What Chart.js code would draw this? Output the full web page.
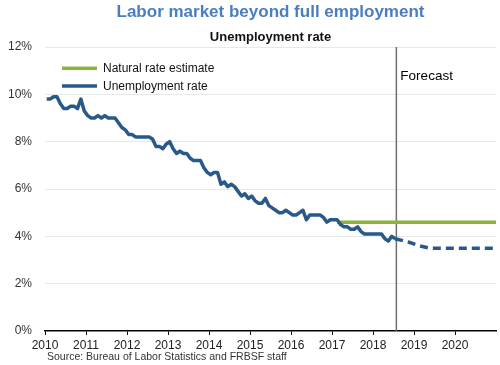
<!DOCTYPE html>
<html>
<head>
<meta charset="utf-8">
<script src="https://cdn.jsdelivr.net/npm/chart.js@4.4.1/dist/chart.umd.min.js"></script>
<style>
html,body{margin:0;padding:0;background:#fff;}
#wrap{position:relative;width:500px;height:365px;}
</style>
</head>
<body>
<div id="wrap"><canvas id="c" width="500" height="365"></canvas></div>
<script>
// ---- Data ----
const titleText = 'Labor market beyond full employment';
const subtitleText = 'Unemployment rate';
const sourceText = 'Source: Bureau of Labor Statistics and FRBSF staff';
const forecastLabel = 'Forecast';
const seriesNames = ['Natural rate estimate', 'Unemployment rate'];

const startYear = 2010; // monthly data from Jan 2010
const unemployment = [
  9.8, 9.8, 9.9, 9.9, 9.6, 9.4, 9.4, 9.5, 9.5, 9.4, 9.8, 9.3,   // 2010
  9.1, 9.0, 9.0, 9.1, 9.0, 9.1, 9.0, 9.0, 9.0, 8.8, 8.6, 8.5,   // 2011
  8.3, 8.3, 8.2, 8.2, 8.2, 8.2, 8.2, 8.1, 7.8, 7.8, 7.7, 7.9,   // 2012
  8.0, 7.7, 7.5, 7.6, 7.5, 7.5, 7.3, 7.2, 7.2, 7.2, 6.9, 6.7,   // 2013
  6.6, 6.7, 6.7, 6.2, 6.3, 6.1, 6.2, 6.1, 5.9, 5.7, 5.8, 5.6,   // 2014
  5.7, 5.5, 5.4, 5.4, 5.6, 5.3, 5.2, 5.1, 5.0, 5.0, 5.1, 5.0,   // 2015
  4.9, 4.9, 5.0, 5.1, 4.7, 4.9, 4.9, 4.9, 4.9, 4.8, 4.6, 4.7,   // 2016
  4.7, 4.7, 4.5, 4.4, 4.4, 4.3, 4.3, 4.4, 4.2, 4.1, 4.1, 4.1,   // 2017
  4.1, 4.1, 4.1, 3.9, 3.8, 4.0, 3.9                               // 2018
];
const forecastDates  = [2018.54, 2018.88, 2019.13, 2019.38, 2019.63, 2019.88, 2020.13, 2020.38, 2020.63, 2020.88, 2021.0];
const forecastValues = [3.9, 3.75, 3.6, 3.5, 3.5, 3.5, 3.5, 3.5, 3.5, 3.5, 3.5];
const naturalRateDates  = [2017.125, 2021.0];
const naturalRateValues = [4.6, 4.6];
const forecastStartDate = 2018.57;
const xTicks = [2010, 2011, 2012, 2013, 2014, 2015, 2016, 2017, 2018, 2019, 2020];
const yMin = 0, yMax = 12, yStep = 2;
const xMin = 2010, xMax = 2021;

// ---- Styles ----
const FONT = "'Liberation Sans', Arial, Helvetica, sans-serif";
const BLUE = '#28598a';
const GREEN = '#8cb43c';
const TITLE_BLUE = '#4a7ebf';
const VLINE = '#6e6e6e';

const actualPts = unemployment.map((v, i) => ({x: startYear + (i + 0.5) / 12, y: v}));
const forecastPts = forecastDates.map((d, i) => ({x: d, y: forecastValues[i]}));
const naturalPts = naturalRateDates.map((d, i) => ({x: d, y: naturalRateValues[i]}));
const vlinePts = [{x: forecastStartDate, y: yMin}, {x: forecastStartDate, y: yMax}];

const overlay = {
  id: 'overlay',
  afterDraw(chart) {
    const ctx = chart.ctx, ca = chart.chartArea;
    const xs = chart.scales.x;
    ctx.save();
    // legend
    const items = [
      {label: seriesNames[0], color: GREEN},
      {label: seriesNames[1], color: BLUE}
    ];
    items.forEach((it, i) => {
      const y = ca.top + 21.3 + i * 17.7;
      ctx.fillStyle = it.color;
      ctx.fillRect(ca.left + 17, y - 1.75, 35, 3.5);
      ctx.fillStyle = '#111';
      ctx.font = '12px ' + FONT;
      ctx.textBaseline = 'middle';
      ctx.textAlign = 'left';
      ctx.fillText(it.label, ca.left + 58, y + 0.5);
    });
    // forecast label
    ctx.font = '13.5px ' + FONT;
    ctx.fillStyle = '#000';
    ctx.textBaseline = 'middle';
    ctx.fillText(forecastLabel, xs.getPixelForValue(forecastStartDate) + 4, ca.top + 29);
    // source
    ctx.font = '10.5px ' + FONT;
    ctx.fillStyle = '#333';
    ctx.fillText(sourceText, ca.left + 2, 357);
    ctx.restore();
  }
};

new Chart(document.getElementById('c'), {
  type: 'line',
  data: {
    datasets: [
      {label: seriesNames[1], data: actualPts, borderColor: BLUE, borderWidth: 3.5, pointRadius: 0, tension: 0, borderJoinStyle: 'round'},
      {label: 'Forecast', data: forecastPts, borderColor: BLUE, borderWidth: 3.5, borderDash: [8, 5], pointRadius: 0, tension: 0},
      {label: seriesNames[0], data: naturalPts, borderColor: GREEN, borderWidth: 3.5, pointRadius: 0},
      {label: 'Forecast start', data: vlinePts, borderColor: VLINE, borderWidth: 1.5, pointRadius: 0}
    ]
  },
  options: {
    responsive: false,
    animation: false,
    devicePixelRatio: 1,
    layout: {padding: {left: 8, right: 4, top: 0, bottom: 13}},
    plugins: {
      legend: {display: false},
      tooltip: {enabled: false},
      title: {
        display: true, text: titleText, color: TITLE_BLUE, fullSize: false,
        font: {family: FONT, size: 17, weight: 'bold'},
        padding: {top: 2, bottom: 0}
      },
      subtitle: {
        display: true, text: subtitleText, color: '#111', fullSize: false,
        font: {family: FONT, size: 13, weight: 'bold'},
        padding: {top: 7, bottom: 2}
      }
    },
    scales: {
      x: {
        type: 'linear', min: xMin, max: xMax,
        afterBuildTicks: s => { s.ticks = xTicks.map(v => ({value: v})); },
        afterFit: s => { s.height = 21; },
        ticks: {
          autoSkip: false, maxRotation: 0, padding: 3, color: '#222',
          font: {family: FONT, size: 12},
          callback: v => String(v)
        },
        grid: {drawOnChartArea: false, drawTicks: true, tickLength: 4, color: '#000', lineWidth: 1},
        border: {display: true, color: '#000', width: 1.5}
      },
      y: {
        min: yMin, max: yMax,
        afterFit: s => { s.width = 37; },
        ticks: {
          stepSize: yStep, padding: 13, color: '#333',
          font: {family: FONT, size: 12},
          callback: v => v + '%'
        },
        grid: {
          drawTicks: false,
          color: c => (c.tick && c.tick.value === 0) ? 'rgba(0,0,0,0)' : '#e8e8e8',
          lineWidth: 1
        },
        border: {display: false}
      }
    }
  },
  plugins: [overlay]
});
</script>
</body>
</html>
